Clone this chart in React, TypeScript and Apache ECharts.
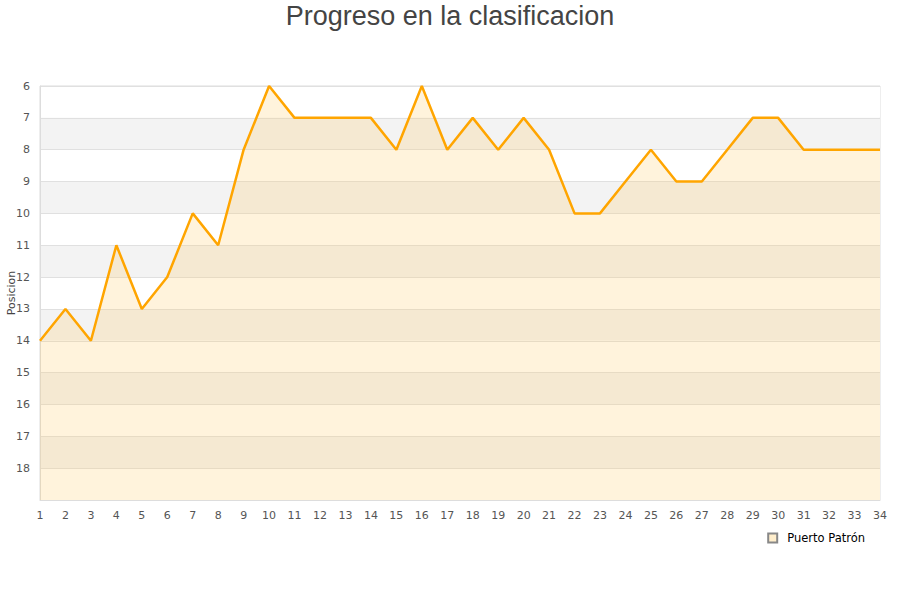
import React, { useEffect, useRef } from "react";
import * as echarts from "echarts";

const rounds = Array.from({ length: 34 }, (_, i) => String(i + 1));
const positions = [14, 13, 14, 11, 13, 12, 10, 11, 8, 6, 7, 7, 7, 7, 8, 6, 8, 7, 8, 7, 8, 10, 10, 9, 8, 9, 9, 8, 7, 7, 8, 8, 8, 8];
const seriesName = "Puerto Patrón";
const titleText = "Progreso en la clasificacion";
const yName = "Posicion";

export default function App() {
  const ref = useRef<HTMLDivElement>(null);
  useEffect(() => {
    const chart = echarts.init(ref.current!, null, { renderer: "svg" });
    chart.setOption({
      animation: false,
      title: {
        text: titleText,
        left: "center",
        top: -3,
        textStyle: { fontFamily: "Liberation Sans, Arial", fontSize: 27, fontWeight: "normal", color: "#444" },
      },
      legend: {
        data: [{ name: seriesName, icon: "rect" }],
        right: 30,
        top: 527,
        itemWidth: 9,
        itemHeight: 9,
        itemGap: 10,
        textStyle: { fontFamily: "DejaVu Sans", fontSize: 11.5, color: "#000", padding: [0, 0, 0, 5] },
      },
      graphic: [
        {
          type: "text",
          x: 11,
          y: 293,
          rotation: Math.PI / 2,
          style: {
            text: yName,
            fill: "#444",
            font: "11px 'DejaVu Sans'",
            align: "center",
            verticalAlign: "middle",
          },
        },
      ],
      grid: {
        left: 40, right: 20, top: 86, bottom: 100,
        containLabel: false,
        outerBoundsMode: "none",
        show: true, borderColor: "#dddddd", borderWidth: 1, backgroundColor: "transparent",
      },
      xAxis: {
        type: "category",
        data: rounds,
        boundaryGap: false,
        axisLine: { lineStyle: { color: "#dddddd" } },
        axisTick: { show: false },
        axisLabel: { color: "#555", fontFamily: "DejaVu Sans", fontSize: 11, margin: 10, interval: 0 },
      },
      yAxis: {
        type: "value",
        inverse: true,
        min: 6,
        max: 19,
        interval: 1,
        axisLine: { show: true, lineStyle: { color: "#dddddd" } },
        axisTick: { show: false },
        axisLabel: {
          color: "#555",
          fontFamily: "DejaVu Sans",
          fontSize: 11,
          margin: 10,
          formatter: (v: number) => (v === 19 ? "" : String(v)),
        },
        splitLine: { show: true, lineStyle: { color: "#e0e0e0" } },
        splitArea: { show: true, areaStyle: { color: ["#ffffff", "#f3f3f3"] } },
      },
      series: [
        {
          name: seriesName,
          type: "line",
          data: positions,
          showSymbol: false,
          symbol: "none",
          lineStyle: { color: "#ffa500", width: 2.5 },
          itemStyle: { color: "#ffeecc", borderColor: "#888", borderWidth: 1 },
          areaStyle: { color: "rgba(255,200,100,0.32)", origin: "end" },
        },
      ],
    });
    return () => chart.dispose();
  }, []);
  return <div ref={ref} style={{ width: 900, height: 600, position: "absolute", left: 0, top: 0 }} />;
}
